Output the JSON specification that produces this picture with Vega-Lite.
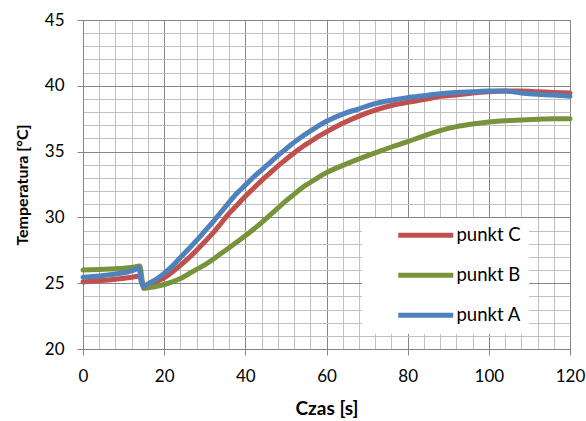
{
  "$schema": "https://vega.github.io/schema/vega-lite/v6.json",
  "width": 487,
  "height": 329,
  "autosize": "none",
  "padding": {"left": 83, "top": 20, "right": 16, "bottom": 72},
  "background": "white",
  "config": {
    "view": {"stroke": "#868686", "strokeWidth": 1},
    "font": "Lato"
  },
  "data": {"values": [
    {"punkt":"punkt C","t":0,"T":25.1},{"punkt":"punkt C","t":4,"T":25.2},{"punkt":"punkt C","t":8,"T":25.3},{"punkt":"punkt C","t":12,"T":25.45},{"punkt":"punkt C","t":14,"T":25.55},{"punkt":"punkt C","t":14.5,"T":25.0},{"punkt":"punkt C","t":15,"T":24.75},{"punkt":"punkt C","t":16,"T":24.85},{"punkt":"punkt C","t":18,"T":25.1},{"punkt":"punkt C","t":20,"T":25.4},{"punkt":"punkt C","t":22,"T":25.85},{"punkt":"punkt C","t":24,"T":26.35},{"punkt":"punkt C","t":26,"T":26.9},{"punkt":"punkt C","t":28,"T":27.5},{"punkt":"punkt C","t":30,"T":28.15},{"punkt":"punkt C","t":32,"T":28.8},{"punkt":"punkt C","t":34,"T":29.55},{"punkt":"punkt C","t":36,"T":30.3},{"punkt":"punkt C","t":38,"T":30.95},{"punkt":"punkt C","t":40,"T":31.6},{"punkt":"punkt C","t":42,"T":32.2},{"punkt":"punkt C","t":44,"T":32.8},{"punkt":"punkt C","t":46,"T":33.35},{"punkt":"punkt C","t":48,"T":33.9},{"punkt":"punkt C","t":50,"T":34.4},{"punkt":"punkt C","t":52,"T":34.9},{"punkt":"punkt C","t":54,"T":35.35},{"punkt":"punkt C","t":56,"T":35.75},{"punkt":"punkt C","t":58,"T":36.15},{"punkt":"punkt C","t":60,"T":36.5},{"punkt":"punkt C","t":64,"T":37.15},{"punkt":"punkt C","t":68,"T":37.7},{"punkt":"punkt C","t":72,"T":38.15},{"punkt":"punkt C","t":76,"T":38.5},{"punkt":"punkt C","t":80,"T":38.75},{"punkt":"punkt C","t":84,"T":38.95},{"punkt":"punkt C","t":88,"T":39.2},{"punkt":"punkt C","t":92,"T":39.3},{"punkt":"punkt C","t":96,"T":39.45},{"punkt":"punkt C","t":100,"T":39.55},{"punkt":"punkt C","t":104,"T":39.6},{"punkt":"punkt C","t":108,"T":39.6},{"punkt":"punkt C","t":112,"T":39.55},{"punkt":"punkt C","t":116,"T":39.5},{"punkt":"punkt C","t":120,"T":39.45},
    {"punkt":"punkt B","t":0,"T":26.0},{"punkt":"punkt B","t":4,"T":26.05},{"punkt":"punkt B","t":8,"T":26.1},{"punkt":"punkt B","t":12,"T":26.2},{"punkt":"punkt B","t":14,"T":26.3},{"punkt":"punkt B","t":14.6,"T":25.2},{"punkt":"punkt B","t":15,"T":24.6},{"punkt":"punkt B","t":16,"T":24.65},{"punkt":"punkt B","t":18,"T":24.75},{"punkt":"punkt B","t":20,"T":24.9},{"punkt":"punkt B","t":22,"T":25.1},{"punkt":"punkt B","t":24,"T":25.35},{"punkt":"punkt B","t":26,"T":25.7},{"punkt":"punkt B","t":28,"T":26.05},{"punkt":"punkt B","t":30,"T":26.4},{"punkt":"punkt B","t":32,"T":26.8},{"punkt":"punkt B","t":34,"T":27.25},{"punkt":"punkt B","t":36,"T":27.7},{"punkt":"punkt B","t":38,"T":28.15},{"punkt":"punkt B","t":40,"T":28.6},{"punkt":"punkt B","t":42,"T":29.1},{"punkt":"punkt B","t":44,"T":29.6},{"punkt":"punkt B","t":46,"T":30.15},{"punkt":"punkt B","t":48,"T":30.7},{"punkt":"punkt B","t":50,"T":31.25},{"punkt":"punkt B","t":52,"T":31.75},{"punkt":"punkt B","t":54,"T":32.25},{"punkt":"punkt B","t":56,"T":32.65},{"punkt":"punkt B","t":58,"T":33.05},{"punkt":"punkt B","t":60,"T":33.4},{"punkt":"punkt B","t":64,"T":33.95},{"punkt":"punkt B","t":68,"T":34.45},{"punkt":"punkt B","t":72,"T":34.9},{"punkt":"punkt B","t":76,"T":35.35},{"punkt":"punkt B","t":80,"T":35.75},{"punkt":"punkt B","t":84,"T":36.2},{"punkt":"punkt B","t":88,"T":36.6},{"punkt":"punkt B","t":92,"T":36.9},{"punkt":"punkt B","t":96,"T":37.1},{"punkt":"punkt B","t":100,"T":37.25},{"punkt":"punkt B","t":104,"T":37.35},{"punkt":"punkt B","t":108,"T":37.4},{"punkt":"punkt B","t":112,"T":37.45},{"punkt":"punkt B","t":116,"T":37.5},{"punkt":"punkt B","t":120,"T":37.5},
    {"punkt":"punkt A","t":0,"T":25.45},{"punkt":"punkt A","t":4,"T":25.55},{"punkt":"punkt A","t":8,"T":25.7},{"punkt":"punkt A","t":11,"T":25.85},{"punkt":"punkt A","t":13,"T":26.05},{"punkt":"punkt A","t":13.8,"T":26.2},{"punkt":"punkt A","t":14.3,"T":25.2},{"punkt":"punkt A","t":14.8,"T":24.75},{"punkt":"punkt A","t":16,"T":24.95},{"punkt":"punkt A","t":18,"T":25.3},{"punkt":"punkt A","t":20,"T":25.75},{"punkt":"punkt A","t":22,"T":26.3},{"punkt":"punkt A","t":24,"T":26.95},{"punkt":"punkt A","t":26,"T":27.6},{"punkt":"punkt A","t":28,"T":28.25},{"punkt":"punkt A","t":30,"T":28.95},{"punkt":"punkt A","t":32,"T":29.65},{"punkt":"punkt A","t":34,"T":30.4},{"punkt":"punkt A","t":36,"T":31.15},{"punkt":"punkt A","t":38,"T":31.85},{"punkt":"punkt A","t":40,"T":32.45},{"punkt":"punkt A","t":42,"T":33.05},{"punkt":"punkt A","t":44,"T":33.6},{"punkt":"punkt A","t":46,"T":34.15},{"punkt":"punkt A","t":48,"T":34.7},{"punkt":"punkt A","t":50,"T":35.2},{"punkt":"punkt A","t":52,"T":35.7},{"punkt":"punkt A","t":54,"T":36.15},{"punkt":"punkt A","t":56,"T":36.55},{"punkt":"punkt A","t":58,"T":36.95},{"punkt":"punkt A","t":60,"T":37.3},{"punkt":"punkt A","t":64,"T":37.85},{"punkt":"punkt A","t":68,"T":38.25},{"punkt":"punkt A","t":72,"T":38.65},{"punkt":"punkt A","t":76,"T":38.9},{"punkt":"punkt A","t":80,"T":39.1},{"punkt":"punkt A","t":84,"T":39.25},{"punkt":"punkt A","t":88,"T":39.4},{"punkt":"punkt A","t":92,"T":39.5},{"punkt":"punkt A","t":96,"T":39.55},{"punkt":"punkt A","t":100,"T":39.6},{"punkt":"punkt A","t":104,"T":39.6},{"punkt":"punkt A","t":108,"T":39.45},{"punkt":"punkt A","t":112,"T":39.35},{"punkt":"punkt A","t":116,"T":39.3},{"punkt":"punkt A","t":120,"T":39.2}
  ]},
  "mark": {"type": "line", "strokeWidth": 5, "strokeCap": "round", "strokeJoin": "round", "interpolate": "monotone"},
  "encoding": {
    "x": {
      "field": "t", "type": "quantitative",
      "scale": {"domain": [0, 120], "nice": false, "zero": false},
      "axis": {
        "title": "Czas [s]",
        "values": [0,4,8,12,16,20,24,28,32,36,40,44,48,52,56,60,64,68,72,76,80,84,88,92,96,100,104,108,112,116,120],
        "labelExpr": "datum.value % 20 === 0 ? datum.label : ''",
        "labelFlush": false,
        "labelOverlap": false,
        "labelFontSize": 17,
        "labelColor": "#000000",
        "labelPadding": 13,
        "tickSize": 6,
        "tickColor": "#868686",
        "tickOpacity": {"condition": {"test": "datum.value % 20 === 0", "value": 1}, "value": 0},
        "domainColor": "#868686",
        "grid": true,
        "gridColor": {"condition": {"test": "datum.value % 20 === 0", "value": "#868686"}, "value": "#c0c0c0"},
        "gridWidth": 1,
        "gridOpacity": 1,
        "titleFontSize": 19,
        "titleFontWeight": "bold",
        "titleColor": "#000000",
        "titlePadding": 15
      }
    },
    "y": {
      "field": "T", "type": "quantitative",
      "scale": {"domain": [20, 45], "nice": false, "zero": false},
      "axis": {
        "title": "Temperatura [°C]",
        "values": [20,21,22,23,24,25,26,27,28,29,30,31,32,33,34,35,36,37,38,39,40,41,42,43,44,45],
        "labelExpr": "datum.value % 5 === 0 ? datum.label : ''",
        "labelFlush": false,
        "labelOverlap": false,
        "labelFontSize": 17,
        "labelColor": "#000000",
        "labelPadding": 13,
        "tickSize": 6,
        "tickColor": "#868686",
        "tickOpacity": {"condition": {"test": "datum.value % 5 === 0", "value": 1}, "value": 0},
        "domainColor": "#868686",
        "grid": true,
        "gridColor": {"condition": {"test": "datum.value % 5 === 0", "value": "#868686"}, "value": "#c0c0c0"},
        "gridWidth": 1,
        "gridOpacity": 1,
        "titleFontSize": 16,
        "titleFontWeight": "bold",
        "titleColor": "#000000",
        "titlePadding": 14
      }
    },
    "color": {
      "field": "punkt", "type": "nominal",
      "scale": {"domain": ["punkt C", "punkt B", "punkt A"], "range": ["#C0504D", "#77933C", "#4F81BD"]},
      "legend": {
        "title": null,
        "orient": "none",
        "legendX": 279,
        "legendY": 198,
        "fillColor": "white",
        "padding": 8,
        "symbolType": "M-5.5,0H5.5",
        "symbolSize": 100,
        "symbolStrokeWidth": 5,
        "symbolOffset": 46.5,
        "labelFontSize": 18.5,
        "labelColor": "#000000",
        "labelOffset": 21.5,
        "labelExpr": "datum.label + '\u00a0\u00a0\u00a0\u00a0'",
        "rowPadding": 19
      }
    }
  }
}
